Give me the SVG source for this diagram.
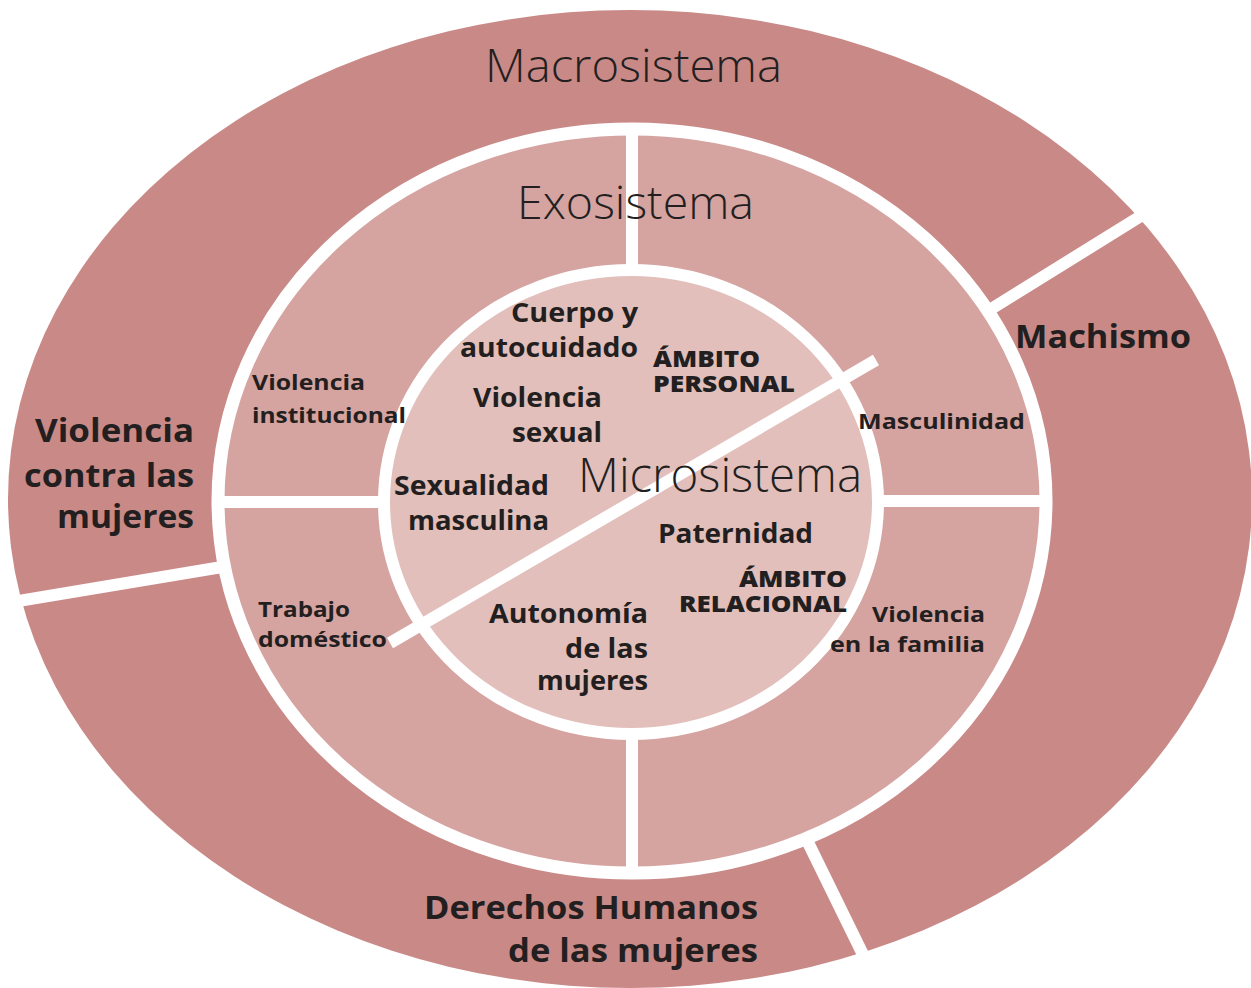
<svg xmlns="http://www.w3.org/2000/svg" width="1251" height="988" viewBox="0 0 1251 988">
<style>
.macro{fill:#c98987;}
.exo{fill:#d5a3a0;stroke:#ffffff;stroke-width:13;}
.micro{fill:#e2bfbb;stroke:#ffffff;stroke-width:12;}
.div{stroke:#ffffff;stroke-width:12;stroke-linecap:butt;fill:none;}
text{fill:#231f20;font-family:"Open Sans","Liberation Sans",sans-serif;}
.title{font-weight:300;font-size:46px;}
.inner{font-weight:700;font-size:26px;}
.amb{font-weight:800;font-size:22px;}
.mid{font-weight:700;font-size:22px;}
.big{font-weight:700;font-size:32px;}
.e{text-anchor:end;}
</style>
<rect width="1251" height="988" fill="#ffffff"/>
<g id="macrosistema">
<ellipse class="macro" cx="630" cy="499" rx="622" ry="489"/>
</g>
<g id="connectors-macro">
<line class="div" x1="975" y1="319" x2="1165" y2="201"/>
<line class="div" x1="240" y1="564" x2="0" y2="604"/>
<line class="div" x1="798" y1="822" x2="874" y2="977"/>
</g>
<g id="exosistema">
<ellipse class="exo" cx="632" cy="501" rx="414" ry="372"/>
</g>
<g id="connectors-exo">
<line class="div" x1="632" y1="125" x2="632" y2="290"/>
<line class="div" x1="632" y1="710" x2="632" y2="878"/>
<line class="div" x1="212" y1="502" x2="400" y2="502"/>
<line class="div" x1="865" y1="501" x2="1052" y2="501"/>
</g>
<g id="microsistema">
<ellipse class="micro" cx="631" cy="502" rx="247" ry="232"/>
</g>
<g id="connectors-micro">
<line class="div" x1="390" y1="643" x2="876" y2="360"/>
</g>
<g id="titles">
<text class="title" x="485" y="82" textLength="297" lengthAdjust="spacingAndGlyphs">Macrosistema</text>
<text class="title" x="517" y="219" textLength="237" lengthAdjust="spacingAndGlyphs">Exosistema</text>
<text class="title" x="578" y="492" textLength="284" lengthAdjust="spacingAndGlyphs" style="font-size:48px">Microsistema</text>
</g>
<g id="node-cuerpo">
<text class="inner e" x="638" y="322" textLength="127" lengthAdjust="spacingAndGlyphs">Cuerpo y</text>
<text class="inner e" x="638" y="357" textLength="178" lengthAdjust="spacingAndGlyphs">autocuidado</text>
</g>
<g id="node-ambito-personal">
<text class="amb" x="653" y="367" textLength="107" lengthAdjust="spacingAndGlyphs">ÁMBITO</text>
<text class="amb" x="653" y="392" textLength="142" lengthAdjust="spacingAndGlyphs">PERSONAL</text>
</g>
<g id="node-violencia-sexual">
<text class="inner e" x="602" y="407" textLength="129" lengthAdjust="spacingAndGlyphs">Violencia</text>
<text class="inner e" x="602" y="442" textLength="90" lengthAdjust="spacingAndGlyphs">sexual</text>
</g>
<g id="node-sexualidad">
<text class="inner e" x="549" y="495" textLength="155" lengthAdjust="spacingAndGlyphs">Sexualidad</text>
<text class="inner e" x="549" y="530" textLength="141" lengthAdjust="spacingAndGlyphs">masculina</text>
</g>
<g id="node-paternidad">
<text class="inner" x="658" y="543" textLength="155" lengthAdjust="spacingAndGlyphs">Paternidad</text>
</g>
<g id="node-ambito-relacional">
<text class="amb e" x="847" y="587" textLength="108" lengthAdjust="spacingAndGlyphs">ÁMBITO</text>
<text class="amb e" x="847" y="612" textLength="168" lengthAdjust="spacingAndGlyphs">RELACIONAL</text>
</g>
<g id="node-autonomia">
<text class="inner e" x="648" y="623" textLength="159" lengthAdjust="spacingAndGlyphs">Autonomía</text>
<text class="inner e" x="648" y="658" textLength="83" lengthAdjust="spacingAndGlyphs">de las</text>
<text class="inner e" x="648" y="690" textLength="111" lengthAdjust="spacingAndGlyphs">mujeres</text>
</g>
<g id="node-violencia-institucional">
<text class="mid" x="252" y="390" textLength="113" lengthAdjust="spacingAndGlyphs">Violencia</text>
<text class="mid" x="252" y="423" textLength="154" lengthAdjust="spacingAndGlyphs">institucional</text>
</g>
<g id="node-trabajo">
<text class="mid" x="258" y="617" textLength="92" lengthAdjust="spacingAndGlyphs">Trabajo</text>
<text class="mid" x="258" y="647" textLength="129" lengthAdjust="spacingAndGlyphs">doméstico</text>
</g>
<g id="node-masculinidad">
<text class="mid" x="858" y="429" textLength="167" lengthAdjust="spacingAndGlyphs">Masculinidad</text>
</g>
<g id="node-violencia-familia">
<text class="mid e" x="985" y="622" textLength="113" lengthAdjust="spacingAndGlyphs">Violencia</text>
<text class="mid e" x="985" y="652" textLength="155" lengthAdjust="spacingAndGlyphs">en la familia</text>
</g>
<g id="node-machismo">
<text class="big" x="1015" y="348" textLength="176" lengthAdjust="spacingAndGlyphs">Machismo</text>
</g>
<g id="node-violencia-mujeres">
<text class="big e" x="194" y="442" textLength="159" lengthAdjust="spacingAndGlyphs">Violencia</text>
<text class="big e" x="194" y="487" textLength="170" lengthAdjust="spacingAndGlyphs">contra las</text>
<text class="big e" x="194" y="528" textLength="137" lengthAdjust="spacingAndGlyphs">mujeres</text>
</g>
<g id="node-derechos">
<text class="big e" x="758" y="919" textLength="334" lengthAdjust="spacingAndGlyphs">Derechos Humanos</text>
<text class="big e" x="758" y="962" textLength="250" lengthAdjust="spacingAndGlyphs">de las mujeres</text>
</g>
</svg>
